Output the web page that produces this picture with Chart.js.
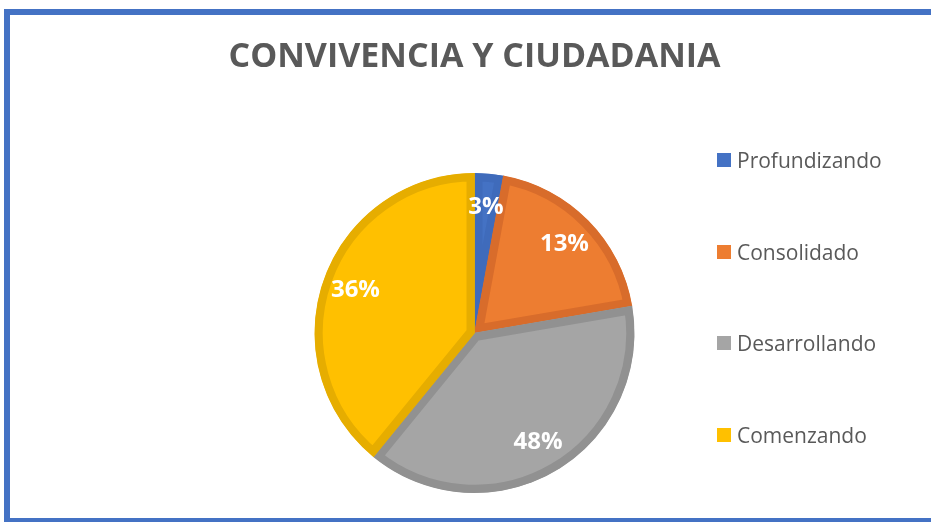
<!DOCTYPE html>
<html>
<head>
<meta charset="utf-8">
<script src="https://cdn.jsdelivr.net/npm/chart.js@4.4.1/dist/chart.umd.min.js"></script>
<style>
  html, body { margin: 0; padding: 0; background: #fff; overflow: hidden; }
  #frame {
    position: absolute; left: 4px; top: 9px; width: 960px; height: 515px;
    border: 6px solid #4472C4; box-sizing: border-box;
  }
  #wrap { position: absolute; left: 0; top: 0; width: 931px; height: 522px; }
  #legend {
    position: absolute; left: 717px; top: 0; font-family: "Open Sans", sans-serif;
    font-size: 21px; color: #595959;
  }
  .item { position: absolute; left: 0; white-space: nowrap; display: flex; align-items: center; height: 24px; }
  .box { width: 14px; height: 14px; margin-right: 6px; }
</style>
</head>
<body>
<div id="frame"></div>
<div id="wrap"><canvas id="convivenciaPie" width="931" height="522"></canvas></div>
<div id="legend"></div>
<script>
// slice sizes, printed labels as shown on the chart
var categories = ["Profundizando", "Consolidado", "Desarrollando", "Comenzando"];
var sliceValues = [2.9, 19.4, 38.6, 39.1];
var shownLabels = ["3%", "13%", "48%", "36%"];
var fillColors = ["#4472C4", "#ED7D31", "#A5A5A5", "#FFC000"];
var edgeColors = ["#3F6BBB", "#D86C2B", "#919191", "#E6AD00"];

var sliceLabels = {
  id: 'sliceLabels',
  afterDatasetsDraw: function(chart) {
    var ctx = chart.ctx;
    var arcs = chart.getDatasetMeta(0).data;
    ctx.save();
    ctx.fillStyle = "#fff";
    ctx.font = "bold 24px 'Open Sans', sans-serif";
    ctx.textAlign = "center";
    ctx.textBaseline = "middle";
    arcs.forEach(function(arc, i) {
      var p = arc.getProps(['x', 'y', 'startAngle', 'endAngle', 'outerRadius'], true);
      var mid = (p.startAngle + p.endAngle) / 2;
      var r = p.outerRadius * 0.79;
      ctx.fillText(shownLabels[i], p.x + Math.cos(mid) * r, p.y + Math.sin(mid) * r);
    });
    ctx.restore();
  }
};

function drawConvivenciaPie() {
  var ctx = document.getElementById("convivenciaPie");
  new Chart(ctx, {
    type: 'pie',
    data: {
      labels: categories,
      datasets: [{
        data: sliceValues,
        backgroundColor: fillColors,
        borderColor: edgeColors,
        borderWidth: 8,
        borderAlign: 'inner'
      }]
    },
    options: {
      responsive: false,
      animation: false,
      events: [],
      radius: 160,
      layout: { padding: { left: 18, right: 0, top: 0, bottom: 0 } },
      plugins: {
        legend: { display: false },
        tooltip: { enabled: false },
        title: {
          display: true,
          text: "CONVIVENCIA Y CIUDADANIA",
          color: "#595959",
          font: { family: "'Open Sans', sans-serif", size: 34, weight: 'bold' },
          padding: { top: 36.6, bottom: 66.6 }
        }
      }
    },
    plugins: [sliceLabels]
  });
}

function buildLegend() {
  var box = document.getElementById("legend");
  categories.forEach(function(name, i) {
    var row = document.createElement("div");
    row.className = "item";
    row.style.top = (148 + i * 91.7) + "px";
    var sq = document.createElement("span");
    sq.className = "box";
    sq.style.background = fillColors[i];
    row.appendChild(sq);
    row.appendChild(document.createTextNode(name));
    box.appendChild(row);
  });
}

drawConvivenciaPie();
buildLegend();
</script>
</body>
</html>
